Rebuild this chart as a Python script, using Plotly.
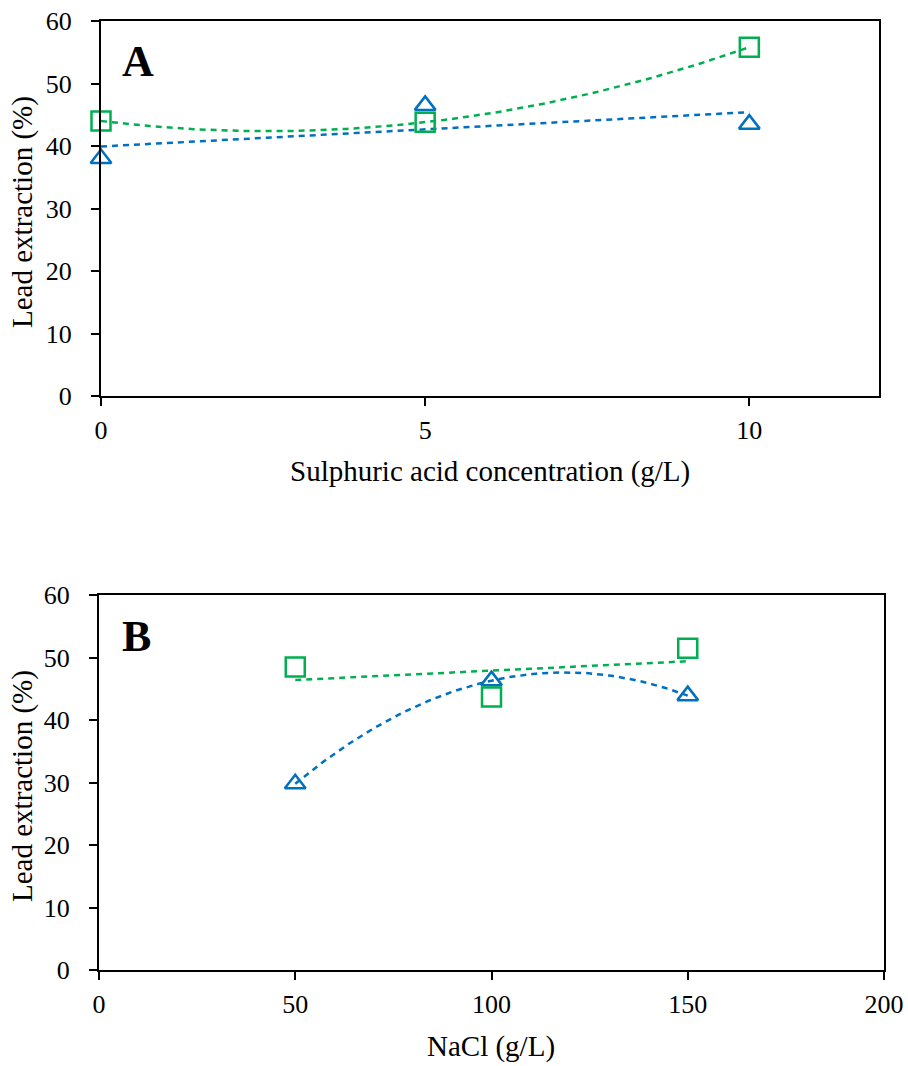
import numpy as np
import plotly.graph_objects as go

# ---- data ----
h2so4_conc = [0, 5, 10]            # g/L (panel A)
a_triangle = [38.0, 46.5, 43.5]    # lead extraction %
a_square = [44.0, 43.8, 55.8]

nacl_conc = [50, 100, 150]         # g/L (panel B)
b_triangle = [29.8, 46.3, 43.9]
b_square = [48.5, 43.7, 51.5]

x_ticks_a = [0, 5, 10]
x_ticks_b = [0, 50, 100, 150, 200]
y_ticks = [0, 10, 20, 30, 40, 50, 60]

BLUE = "#0070C0"
GREEN = "#00B050"
FONT = "Liberation Serif"
W, H = 908, 1066


def fx(p):
    return p / W


def fy(p):
    return 1 - p / H


def trend(x, y, deg):
    c = np.polyfit(x, y, deg)
    xs = np.linspace(min(x), max(x), 120)
    return xs, np.polyval(c, xs)


fig = go.Figure()

panels = [
    (h2so4_conc, a_triangle, a_square, 1, 2, "x", "y"),
    (nacl_conc, b_triangle, b_square, 2, 1, "x2", "y2"),
]
for xv, tri, sq, deg_tri, deg_sq, xa, ya in panels:
    xs, ys = trend(xv, tri, deg_tri)
    fig.add_trace(go.Scatter(x=xs, y=ys, mode="lines", xaxis=xa, yaxis=ya,
                             line=dict(color=BLUE, width=2.5, dash="6px,5px"),
                             showlegend=False, hoverinfo="skip"))
    xs, ys = trend(xv, sq, deg_sq)
    fig.add_trace(go.Scatter(x=xs, y=ys, mode="lines", xaxis=xa, yaxis=ya,
                             line=dict(color=GREEN, width=2.5, dash="6px,5px"),
                             showlegend=False, hoverinfo="skip"))
    fig.add_trace(go.Scatter(x=xv, y=tri, mode="markers", xaxis=xa, yaxis=ya,
                             marker=dict(symbol="triangle-up-open", size=18,
                                         color=BLUE, line=dict(color=BLUE, width=2.5)),
                             cliponaxis=False, showlegend=False))
    fig.add_trace(go.Scatter(x=xv, y=sq, mode="markers", xaxis=xa, yaxis=ya,
                             marker=dict(symbol="square-open", size=19,
                                         color=GREEN, line=dict(color=GREEN, width=2.5)),
                             cliponaxis=False, showlegend=False))

axis_style = dict(showline=True, linecolor="black", linewidth=2, mirror=True,
                  ticks="outside", ticklen=8, tickwidth=2, tickcolor="black",
                  showgrid=False, zeroline=False, automargin=False,
                  tickfont=dict(family=FONT, size=26, color="black"))

fig.update_layout(
    width=W, height=H,
    margin=dict(l=0, r=0, t=0, b=0, autoexpand=False),
    paper_bgcolor="white", plot_bgcolor="white",
    xaxis=dict(domain=[fx(101), fx(879)], range=[0, 12], tickvals=x_ticks_a,
               anchor="y", ticklabelstandoff=2, **axis_style),
    yaxis=dict(domain=[fy(396), fy(21)], range=[0, 60], tickvals=y_ticks,
               anchor="x", ticklabelstandoff=14, **axis_style),
    xaxis2=dict(domain=[fx(99), fx(884)], range=[0, 200], tickvals=x_ticks_b,
                anchor="y2", ticklabelstandoff=2, **axis_style),
    yaxis2=dict(domain=[fy(970), fy(595)], range=[0, 60], tickvals=y_ticks,
                anchor="x2", ticklabelstandoff=14, **axis_style),
)

title_font = dict(family=FONT, size=29, color="black")
ann = [
    dict(text="<b>A</b>", x=fx(138), y=fy(62), font=dict(family=FONT, size=44, color="black")),
    dict(text="<b>B</b>", x=fx(136), y=fy(636), font=dict(family=FONT, size=44, color="black")),
    dict(text="Lead extraction (%)", x=fx(22), y=fy(212), textangle=-90, font=title_font),
    dict(text="Lead extraction (%)", x=fx(22), y=fy(786), textangle=-90, font=title_font),
    dict(text="Sulphuric acid concentration (g/L)", x=fx(490), y=fy(471), font=title_font),
    dict(text="NaCl (g/L)", x=fx(491), y=fy(1046), font=title_font),
]
for a in ann:
    fig.add_annotation(xref="paper", yref="paper", xanchor="center", yanchor="middle",
                       showarrow=False, **a)

fig.write_html("out.html")
